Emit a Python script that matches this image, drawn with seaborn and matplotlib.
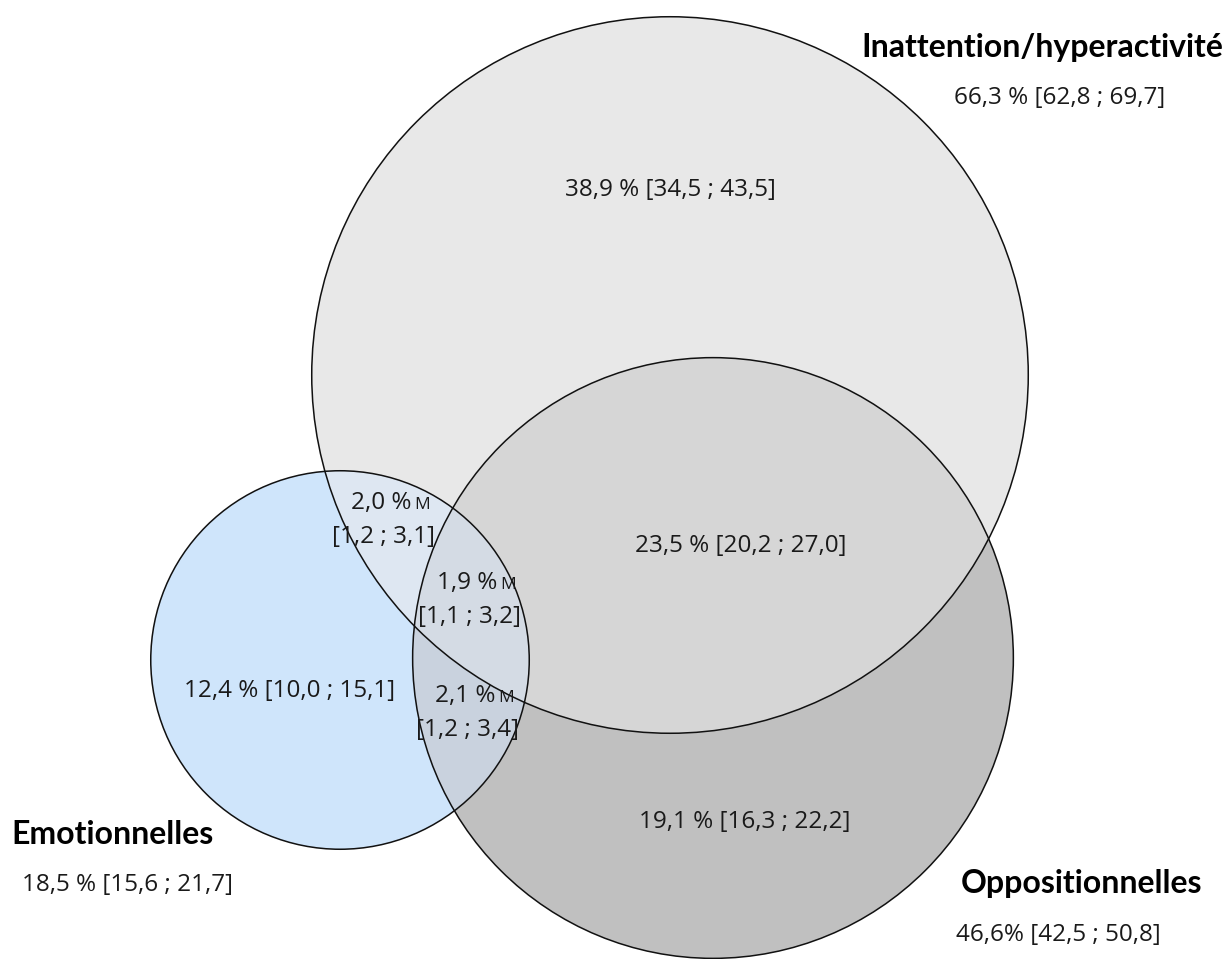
import numpy as np
import seaborn as sns
from matplotlib import pyplot as plt
from matplotlib.patches import Circle, Polygon

# data
set_names = ["Inattention/hyperactivité", "Oppositionnelles", "Emotionnelles"]
set_totals = [66.3, 46.6, 18.5]
set_labels = ["66,3 % [62,8 ; 69,7]", "46,6% [42,5 ; 50,8]", "18,5 % [15,6 ; 21,7]"]

# regions: which sets they belong to (0=I, 1=O, 2=E)
region_sets = [(0,), (1,), (2,), (0, 1), (0, 2), (1, 2), (0, 1, 2)]
region_values = ["38,9 %", "19,1 %", "12,4 %", "23,5 %", "2,0 %", "2,1 %", "1,9 %"]
region_ci = ["[34,5 ; 43,5]", "[16,3 ; 22,2]", "[10,0 ; 15,1]", "[20,2 ; 27,0]",
             "[1,2 ; 3,1]", "[1,2 ; 3,4]", "[1,1 ; 3,2]"]
region_flag = ["", "", "", "", "M", "M", "M"]

# layout (pixel space, y down)
centers = [(670, 375), (713, 658), (340, 660)]
scale = 44.0
radii = [scale * np.sqrt(t) for t in set_totals]

region_colors = {(0,): "#e8e8e8", (1,): "#c0c0c0", (2,): "#cfe5fb",
                 (0, 1): "#d6d6d6", (0, 2): "#dee7f2", (1, 2): "#c9d2de",
                 (0, 1, 2): "#d4dbe4"}
region_pos = {(0,): (670, 190), (1,): (745, 822), (2,): (290, 691),
              (0, 1): (741, 546), (0, 2): (383, 520), (1, 2): (467, 713),
              (0, 1, 2): (469, 600)}
name_pos = [(1042, 48), (1082, 883), (113, 835)]
total_pos = [(1060, 98), (1058, 935), (127, 885)]

sns.set_theme(style="white")
plt.rcParams["font.family"] = ["Open Sans", "DejaVu Sans"]

fig = plt.figure(figsize=(12.24, 9.59), dpi=100)
ax = fig.add_axes([0, 0, 1, 1])
ax.set_xlim(0, 1224)
ax.set_ylim(959, 0)
ax.axis("off")


def intersection(idx, n=3000):
    pts = []
    t = np.linspace(0, 2 * np.pi, n, endpoint=False)
    for i in idx:
        cx, cy = centers[i]
        p = np.column_stack([cx + radii[i] * np.cos(t), cy + radii[i] * np.sin(t)])
        keep = np.ones(n, bool)
        for j in idx:
            if j != i:
                keep &= np.hypot(p[:, 0] - centers[j][0], p[:, 1] - centers[j][1]) <= radii[j] + 1e-6
        pts.append(p[keep])
    pts = np.vstack(pts)
    c = pts.mean(axis=0)
    order = np.argsort(np.arctan2(pts[:, 1] - c[1], pts[:, 0] - c[0]))
    return pts[order]


# fills
for reg in sorted(region_colors, key=len):
    if len(reg) == 1:
        i = reg[0]
        ax.add_patch(Circle(centers[i], radii[i], facecolor=region_colors[reg], edgecolor="none", zorder=1))
    else:
        ax.add_patch(Polygon(intersection(reg), closed=True, facecolor=region_colors[reg],
                             edgecolor="none", zorder=len(reg)))

# outlines
for i in range(3):
    ax.add_patch(Circle(centers[i], radii[i], facecolor="none", edgecolor="#111111", lw=1.1, zorder=5))

# region labels
fs = 17.5
for reg, val, ci, flag in zip(region_sets, region_values, region_ci, region_flag):
    x, y = region_pos[reg]
    if flag:
        t = ax.text(x - 2, y - 17, val, ha="center", va="center", fontsize=fs, color="#1a1a1a", zorder=6)
        ax.annotate(flag, xy=(1, 0), xycoords=t, xytext=(2, 4.3), textcoords="offset points",
                    ha="left", va="baseline", fontsize=12.5, color="#1a1a1a", zorder=6)
        ax.text(x, y + 17, ci, ha="center", va="center", fontsize=fs, color="#1a1a1a", zorder=6)
    else:
        ax.text(x, y, f"{val} {ci}", ha="center", va="center", fontsize=fs, color="#1a1a1a", zorder=6)

# set names and totals
for name, lab, npos, tpos in zip(set_names, set_labels, name_pos, total_pos):
    ax.text(*npos, name, ha="center", va="center", fontsize=23, fontweight="bold",
            family=["Lato", "DejaVu Sans"], color="#000000")
    ax.text(*tpos, lab, ha="center", va="center", fontsize=fs, color="#1a1a1a")

plt.savefig("out.png", dpi=100)
